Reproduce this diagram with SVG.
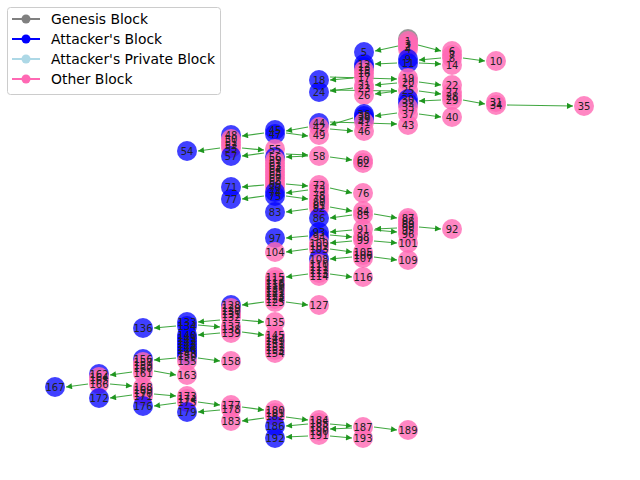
<svg xmlns="http://www.w3.org/2000/svg" width="640" height="480" viewBox="0 0 640 480">
<style>
.p{fill:#ff69b4;fill-opacity:0.8}
.b{fill:#0000ff;fill-opacity:0.75}
.g{fill:#808080;fill-opacity:0.8}
#labels text{font-family:"DejaVu Sans",sans-serif;font-size:10px;fill:#222;text-anchor:middle;dominant-baseline:central}
#edges line{stroke:#1f961f;stroke-opacity:0.85;stroke-width:1.2;marker-end:url(#ah)}
.lg text{font-family:"DejaVu Sans",sans-serif;font-size:13.9px;fill:#000;dominant-baseline:central}
</style>
<defs>
<marker id="ah" viewBox="0 0 10 10" refX="10" refY="5" markerWidth="8" markerHeight="6" markerUnits="userSpaceOnUse" orient="auto"><path d="M0,0 L10,5 L0,10 z" fill="#1f961f"/></marker>
</defs>
<rect width="640" height="480" fill="#fff"/>
<g id="edges">
<line x1="398" y1="46" x2="375" y2="51"/>
<line x1="418" y1="45" x2="441" y2="51"/>
<line x1="441" y1="58" x2="419" y2="60"/>
<line x1="463" y1="58" x2="485" y2="61"/>
<line x1="397" y1="63" x2="375" y2="64"/>
<line x1="419" y1="63" x2="441" y2="64"/>
<line x1="353" y1="78" x2="330" y2="80"/>
<line x1="330" y1="77" x2="397" y2="79"/>
<line x1="397" y1="83" x2="375" y2="85"/>
<line x1="419" y1="82" x2="441" y2="85"/>
<line x1="330" y1="90" x2="397" y2="91"/>
<line x1="397" y1="91" x2="375" y2="94"/>
<line x1="419" y1="91" x2="441" y2="94"/>
<line x1="353" y1="88" x2="330" y2="91"/>
<line x1="441" y1="100" x2="419" y2="101"/>
<line x1="463" y1="100" x2="485" y2="104"/>
<line x1="507" y1="105" x2="573" y2="106"/>
<line x1="397" y1="113" x2="375" y2="116"/>
<line x1="419" y1="114" x2="441" y2="117"/>
<line x1="330" y1="122" x2="397" y2="124"/>
<line x1="353" y1="118" x2="330" y2="125"/>
<line x1="308" y1="127" x2="286" y2="131"/>
<line x1="286" y1="133" x2="308" y2="136"/>
<line x1="330" y1="129" x2="353" y2="131"/>
<line x1="264" y1="133" x2="242" y2="136"/>
<line x1="220" y1="148" x2="198" y2="151"/>
<line x1="242" y1="148" x2="264" y2="150"/>
<line x1="264" y1="153" x2="242" y2="156"/>
<line x1="308" y1="156" x2="286" y2="157"/>
<line x1="286" y1="154" x2="308" y2="155"/>
<line x1="330" y1="157" x2="352" y2="160"/>
<line x1="264" y1="185" x2="242" y2="187"/>
<line x1="286" y1="184" x2="308" y2="186"/>
<line x1="308" y1="190" x2="286" y2="193"/>
<line x1="330" y1="188" x2="352" y2="193"/>
<line x1="264" y1="196" x2="242" y2="199"/>
<line x1="286" y1="196" x2="308" y2="199"/>
<line x1="308" y1="209" x2="286" y2="212"/>
<line x1="330" y1="207" x2="352" y2="211"/>
<line x1="352" y1="215" x2="330" y2="218"/>
<line x1="374" y1="214" x2="397" y2="218"/>
<line x1="397" y1="228" x2="375" y2="229"/>
<line x1="374" y1="230" x2="397" y2="232"/>
<line x1="352" y1="230" x2="330" y2="232"/>
<line x1="419" y1="227" x2="441" y2="229"/>
<line x1="308" y1="236" x2="286" y2="238"/>
<line x1="330" y1="235" x2="352" y2="237"/>
<line x1="352" y1="241" x2="330" y2="243"/>
<line x1="374" y1="241" x2="397" y2="243"/>
<line x1="308" y1="249" x2="286" y2="252"/>
<line x1="330" y1="249" x2="352" y2="252"/>
<line x1="352" y1="257" x2="330" y2="259"/>
<line x1="374" y1="257" x2="397" y2="260"/>
<line x1="308" y1="274" x2="286" y2="277"/>
<line x1="330" y1="274" x2="352" y2="277"/>
<line x1="264" y1="302" x2="242" y2="305"/>
<line x1="286" y1="302" x2="308" y2="305"/>
<line x1="220" y1="320" x2="198" y2="322"/>
<line x1="176" y1="326" x2="154" y2="328"/>
<line x1="198" y1="325" x2="220" y2="327"/>
<line x1="242" y1="320" x2="264" y2="322"/>
<line x1="220" y1="333" x2="198" y2="335"/>
<line x1="242" y1="332" x2="264" y2="335"/>
<line x1="176" y1="358" x2="154" y2="360"/>
<line x1="198" y1="358" x2="220" y2="361"/>
<line x1="154" y1="371" x2="176" y2="375"/>
<line x1="132" y1="372" x2="110" y2="375"/>
<line x1="88" y1="384" x2="66" y2="387"/>
<line x1="110" y1="384" x2="132" y2="386"/>
<line x1="132" y1="395" x2="110" y2="398"/>
<line x1="154" y1="394" x2="176" y2="396"/>
<line x1="176" y1="403" x2="154" y2="406"/>
<line x1="198" y1="402" x2="220" y2="405"/>
<line x1="220" y1="410" x2="198" y2="412"/>
<line x1="242" y1="407" x2="264" y2="410"/>
<line x1="264" y1="418" x2="242" y2="421"/>
<line x1="286" y1="417" x2="308" y2="420"/>
<line x1="308" y1="424" x2="286" y2="426"/>
<line x1="330" y1="424" x2="352" y2="426"/>
<line x1="352" y1="428" x2="330" y2="429"/>
<line x1="308" y1="436" x2="286" y2="437"/>
<line x1="330" y1="436" x2="352" y2="438"/>
<line x1="374" y1="427" x2="397" y2="430"/>
</g>
<g id="nodes">
<g id="n0"><circle class="g" cx="408" cy="39" r="10"/></g>
<g id="n1"><circle class="p" cx="408" cy="41" r="10"/></g>
<g id="n3"><circle class="p" cx="408" cy="44" r="10"/></g>
<g id="n2"><circle class="p" cx="408" cy="46" r="10"/></g>
<g id="n4"><circle class="p" cx="408" cy="49" r="10"/></g>
<g id="n5"><circle class="b" cx="364" cy="52" r="10"/></g>
<g id="n6"><circle class="p" cx="452" cy="51" r="10"/></g>
<g id="n7"><circle class="p" cx="452" cy="55" r="10"/></g>
<g id="n8"><circle class="p" cx="452" cy="58" r="10"/></g>
<g id="n9"><circle class="b" cx="408" cy="59" r="10"/></g>
<g id="n10"><circle class="p" cx="496" cy="61" r="10"/></g>
<g id="n11"><circle class="b" cx="408" cy="63" r="10"/></g>
<g id="n12"><circle class="b" cx="364" cy="64" r="10"/></g>
<g id="n13"><circle class="b" cx="364" cy="67" r="10"/></g>
<g id="n14"><circle class="p" cx="452" cy="65" r="10"/></g>
<g id="n15"><circle class="p" cx="364" cy="70" r="10"/></g>
<g id="n16"><circle class="p" cx="364" cy="73" r="10"/></g>
<g id="n17"><circle class="p" cx="364" cy="77" r="10"/></g>
<g id="n18"><circle class="b" cx="319" cy="80" r="10"/></g>
<g id="n19"><circle class="p" cx="408" cy="78" r="10"/></g>
<g id="n20"><circle class="p" cx="408" cy="82" r="10"/></g>
<g id="n21"><circle class="p" cx="364" cy="85" r="10"/></g>
<g id="n22"><circle class="p" cx="452" cy="85" r="10"/></g>
<g id="n23"><circle class="p" cx="364" cy="88" r="10"/></g>
<g id="n24"><circle class="b" cx="319" cy="92" r="10"/></g>
<g id="n25"><circle class="p" cx="408" cy="90" r="10"/></g>
<g id="n26"><circle class="p" cx="364" cy="95" r="10"/></g>
<g id="n27"><circle class="p" cx="452" cy="92" r="10"/></g>
<g id="n28"><circle class="p" cx="452" cy="96" r="10"/></g>
<g id="n29"><circle class="p" cx="452" cy="100" r="10"/></g>
<g id="n30"><circle class="b" cx="408" cy="99" r="10"/></g>
<g id="n31"><circle class="p" cx="496" cy="102" r="10"/></g>
<g id="n32"><circle class="b" cx="408" cy="103" r="10"/></g>
<g id="n33"><circle class="p" cx="408" cy="107" r="10"/></g>
<g id="n34"><circle class="p" cx="496" cy="105" r="10"/></g>
<g id="n35"><circle class="p" cx="584" cy="106" r="10"/></g>
<g id="n36"><circle class="b" cx="364" cy="114" r="10"/></g>
<g id="n37"><circle class="p" cx="408" cy="114" r="10"/></g>
<g id="n38"><circle class="b" cx="364" cy="116" r="10"/></g>
<g id="n39"><circle class="b" cx="364" cy="119" r="10"/></g>
<g id="n40"><circle class="p" cx="452" cy="117" r="10"/></g>
<g id="n41"><circle class="p" cx="364" cy="122" r="10"/></g>
<g id="n44"><circle class="b" cx="319" cy="123" r="10"/></g>
<g id="n42"><circle class="p" cx="319" cy="127" r="10"/></g>
<g id="n43"><circle class="p" cx="408" cy="125" r="10"/></g>
<g id="n46"><circle class="p" cx="364" cy="131" r="10"/></g>
<g id="n45"><circle class="b" cx="275" cy="130" r="10"/></g>
<g id="n47"><circle class="b" cx="275" cy="134" r="10"/></g>
<g id="n49"><circle class="p" cx="319" cy="135" r="10"/></g>
<g id="n48"><circle class="b" cx="231" cy="135" r="10"/></g>
<g id="n50"><circle class="p" cx="231" cy="139" r="10"/></g>
<g id="n51"><circle class="p" cx="231" cy="142" r="10"/></g>
<g id="n52"><circle class="p" cx="231" cy="145" r="10"/></g>
<g id="n53"><circle class="p" cx="231" cy="148" r="10"/></g>
<g id="n54"><circle class="b" cx="187" cy="151" r="10"/></g>
<g id="n57"><circle class="b" cx="231" cy="156" r="10"/></g>
<g id="n55"><circle class="p" cx="275" cy="149" r="10"/></g>
<g id="n56"><circle class="b" cx="275" cy="157" r="10"/></g>
<g id="n58"><circle class="p" cx="319" cy="156" r="10"/></g>
<g id="n59"><circle class="p" cx="275" cy="160" r="10"/></g>
<g id="n60"><circle class="p" cx="363" cy="160" r="10"/></g>
<g id="n61"><circle class="p" cx="275" cy="163" r="10"/></g>
<g id="n62"><circle class="p" cx="363" cy="163" r="10"/></g>
<g id="n63"><circle class="p" cx="275" cy="166" r="10"/></g>
<g id="n64"><circle class="p" cx="275" cy="169" r="10"/></g>
<g id="n65"><circle class="p" cx="275" cy="172" r="10"/></g>
<g id="n66"><circle class="p" cx="275" cy="175" r="10"/></g>
<g id="n67"><circle class="p" cx="275" cy="178" r="10"/></g>
<g id="n68"><circle class="p" cx="275" cy="181" r="10"/></g>
<g id="n69"><circle class="p" cx="275" cy="184" r="10"/></g>
<g id="n70"><circle class="p" cx="275" cy="187" r="10"/></g>
<g id="n71"><circle class="b" cx="231" cy="187" r="10"/></g>
<g id="n72"><circle class="p" cx="319" cy="185" r="10"/></g>
<g id="n73"><circle class="p" cx="319" cy="189" r="10"/></g>
<g id="n74"><circle class="b" cx="275" cy="192" r="10"/></g>
<g id="n75"><circle class="b" cx="275" cy="196" r="10"/></g>
<g id="n76"><circle class="p" cx="363" cy="193" r="10"/></g>
<g id="n77"><circle class="b" cx="231" cy="199" r="10"/></g>
<g id="n78"><circle class="p" cx="319" cy="195" r="10"/></g>
<g id="n79"><circle class="p" cx="319" cy="199" r="10"/></g>
<g id="n80"><circle class="p" cx="319" cy="202" r="10"/></g>
<g id="n81"><circle class="p" cx="319" cy="205" r="10"/></g>
<g id="n82"><circle class="p" cx="319" cy="208" r="10"/></g>
<g id="n83"><circle class="b" cx="275" cy="212" r="10"/></g>
<g id="n84"><circle class="p" cx="363" cy="211" r="10"/></g>
<g id="n85"><circle class="p" cx="363" cy="215" r="10"/></g>
<g id="n86"><circle class="b" cx="319" cy="218" r="10"/></g>
<g id="n87"><circle class="p" cx="408" cy="218" r="10"/></g>
<g id="n88"><circle class="p" cx="408" cy="221" r="10"/></g>
<g id="n89"><circle class="p" cx="408" cy="224" r="10"/></g>
<g id="n90"><circle class="p" cx="408" cy="227" r="10"/></g>
<g id="n95"><circle class="p" cx="408" cy="230" r="10"/></g>
<g id="n96"><circle class="p" cx="408" cy="234" r="10"/></g>
<g id="n91"><circle class="p" cx="363" cy="229" r="10"/></g>
<g id="n92"><circle class="p" cx="452" cy="229" r="10"/></g>
<g id="n93"><circle class="b" cx="319" cy="232" r="10"/></g>
<g id="n94"><circle class="b" cx="319" cy="237" r="10"/></g>
<g id="n97"><circle class="b" cx="275" cy="238" r="10"/></g>
<g id="n98"><circle class="p" cx="363" cy="237" r="10"/></g>
<g id="n99"><circle class="p" cx="363" cy="240" r="10"/></g>
<g id="n100"><circle class="p" cx="319" cy="243" r="10"/></g>
<g id="n101"><circle class="p" cx="408" cy="243" r="10"/></g>
<g id="n102"><circle class="p" cx="319" cy="246" r="10"/></g>
<g id="n103"><circle class="p" cx="319" cy="249" r="10"/></g>
<g id="n104"><circle class="p" cx="275" cy="252" r="10"/></g>
<g id="n105"><circle class="p" cx="363" cy="252" r="10"/></g>
<g id="n106"><circle class="p" cx="363" cy="255" r="10"/></g>
<g id="n107"><circle class="p" cx="363" cy="258" r="10"/></g>
<g id="n108"><circle class="b" cx="319" cy="259" r="10"/></g>
<g id="n109"><circle class="p" cx="408" cy="260" r="10"/></g>
<g id="n110"><circle class="p" cx="319" cy="264" r="10"/></g>
<g id="n111"><circle class="p" cx="319" cy="267" r="10"/></g>
<g id="n112"><circle class="p" cx="319" cy="270" r="10"/></g>
<g id="n113"><circle class="p" cx="319" cy="273" r="10"/></g>
<g id="n114"><circle class="p" cx="319" cy="276" r="10"/></g>
<g id="n115"><circle class="p" cx="275" cy="277" r="10"/></g>
<g id="n116"><circle class="p" cx="363" cy="277" r="10"/></g>
<g id="n117"><circle class="p" cx="275" cy="280" r="10"/></g>
<g id="n118"><circle class="p" cx="275" cy="283" r="10"/></g>
<g id="n119"><circle class="p" cx="275" cy="285" r="10"/></g>
<g id="n120"><circle class="p" cx="275" cy="288" r="10"/></g>
<g id="n121"><circle class="p" cx="275" cy="291" r="10"/></g>
<g id="n122"><circle class="p" cx="275" cy="293" r="10"/></g>
<g id="n123"><circle class="p" cx="275" cy="296" r="10"/></g>
<g id="n124"><circle class="p" cx="275" cy="299" r="10"/></g>
<g id="n125"><circle class="p" cx="275" cy="302" r="10"/></g>
<g id="n127"><circle class="p" cx="319" cy="305" r="10"/></g>
<g id="n128"><circle class="b" cx="231" cy="305" r="10"/></g>
<g id="n129"><circle class="p" cx="231" cy="308" r="10"/></g>
<g id="n130"><circle class="p" cx="231" cy="311" r="10"/></g>
<g id="n131"><circle class="p" cx="231" cy="314" r="10"/></g>
<g id="n132"><circle class="p" cx="231" cy="317" r="10"/></g>
<g id="n133"><circle class="b" cx="187" cy="322" r="10"/></g>
<g id="n134"><circle class="b" cx="187" cy="326" r="10"/></g>
<g id="n135"><circle class="p" cx="275" cy="322" r="10"/></g>
<g id="n136"><circle class="b" cx="143" cy="328" r="10"/></g>
<g id="n137"><circle class="p" cx="231" cy="326" r="10"/></g>
<g id="n138"><circle class="p" cx="231" cy="329" r="10"/></g>
<g id="n139"><circle class="p" cx="231" cy="333" r="10"/></g>
<g id="n140"><circle class="b" cx="187" cy="335" r="10"/></g>
<g id="n141"><circle class="b" cx="187" cy="338" r="10"/></g>
<g id="n142"><circle class="b" cx="187" cy="341" r="10"/></g>
<g id="n143"><circle class="b" cx="187" cy="344" r="10"/></g>
<g id="n144"><circle class="b" cx="187" cy="347" r="10"/></g>
<g id="n145"><circle class="p" cx="275" cy="335" r="10"/></g>
<g id="n146"><circle class="b" cx="187" cy="350" r="10"/></g>
<g id="n147"><circle class="p" cx="275" cy="338" r="10"/></g>
<g id="n148"><circle class="b" cx="187" cy="353" r="10"/></g>
<g id="n149"><circle class="p" cx="275" cy="341" r="10"/></g>
<g id="n150"><circle class="b" cx="187" cy="356" r="10"/></g>
<g id="n151"><circle class="p" cx="275" cy="344" r="10"/></g>
<g id="n152"><circle class="p" cx="275" cy="347" r="10"/></g>
<g id="n153"><circle class="p" cx="275" cy="350" r="10"/></g>
<g id="n154"><circle class="p" cx="275" cy="353" r="10"/></g>
<g id="n155"><circle class="p" cx="187" cy="361" r="10"/></g>
<g id="n156"><circle class="b" cx="143" cy="359" r="10"/></g>
<g id="n157"><circle class="p" cx="143" cy="362" r="10"/></g>
<g id="n158"><circle class="p" cx="231" cy="361" r="10"/></g>
<g id="n159"><circle class="p" cx="143" cy="365" r="10"/></g>
<g id="n160"><circle class="p" cx="143" cy="368" r="10"/></g>
<g id="n161"><circle class="p" cx="143" cy="373" r="10"/></g>
<g id="n162"><circle class="b" cx="99" cy="374" r="10"/></g>
<g id="n163"><circle class="p" cx="187" cy="375" r="10"/></g>
<g id="n164"><circle class="p" cx="99" cy="377" r="10"/></g>
<g id="n165"><circle class="p" cx="99" cy="380" r="10"/></g>
<g id="n166"><circle class="p" cx="99" cy="384" r="10"/></g>
<g id="n167"><circle class="b" cx="55" cy="387" r="10"/></g>
<g id="n168"><circle class="p" cx="143" cy="387" r="10"/></g>
<g id="n169"><circle class="p" cx="143" cy="390" r="10"/></g>
<g id="n170"><circle class="p" cx="143" cy="393" r="10"/></g>
<g id="n171"><circle class="p" cx="143" cy="396" r="10"/></g>
<g id="n172"><circle class="b" cx="99" cy="398" r="10"/></g>
<g id="n173"><circle class="p" cx="187" cy="396" r="10"/></g>
<g id="n174"><circle class="p" cx="187" cy="399" r="10"/></g>
<g id="n175"><circle class="p" cx="187" cy="402" r="10"/></g>
<g id="n176"><circle class="b" cx="143" cy="406" r="10"/></g>
<g id="n177"><circle class="p" cx="231" cy="405" r="10"/></g>
<g id="n178"><circle class="p" cx="231" cy="409" r="10"/></g>
<g id="n179"><circle class="b" cx="187" cy="412" r="10"/></g>
<g id="n180"><circle class="p" cx="275" cy="410" r="10"/></g>
<g id="n181"><circle class="p" cx="275" cy="413" r="10"/></g>
<g id="n182"><circle class="p" cx="275" cy="416" r="10"/></g>
<g id="n183"><circle class="p" cx="231" cy="421" r="10"/></g>
<g id="n184"><circle class="p" cx="319" cy="420" r="10"/></g>
<g id="n185"><circle class="p" cx="319" cy="423" r="10"/></g>
<g id="n186"><circle class="b" cx="275" cy="426" r="10"/></g>
<g id="n187"><circle class="p" cx="363" cy="427" r="10"/></g>
<g id="n188"><circle class="p" cx="319" cy="427" r="10"/></g>
<g id="n189"><circle class="p" cx="408" cy="430" r="10"/></g>
<g id="n190"><circle class="p" cx="319" cy="431" r="10"/></g>
<g id="n191"><circle class="p" cx="319" cy="435" r="10"/></g>
<g id="n192"><circle class="b" cx="275" cy="438" r="10"/></g>
<g id="n193"><circle class="p" cx="363" cy="438" r="10"/></g>
</g>
<g id="labels">
<text x="408" y="41">1</text><text x="408" y="44">3</text><text x="408" y="46">2</text><text x="408" y="49">4</text>
<text x="364" y="52">5</text><text x="452" y="51">6</text><text x="452" y="55">7</text><text x="452" y="58">8</text>
<text x="408" y="59">9</text><text x="496" y="61">10</text><text x="408" y="63">11</text><text x="364" y="64">12</text>
<text x="364" y="67">13</text><text x="452" y="65">14</text><text x="364" y="70">15</text><text x="364" y="73">16</text>
<text x="364" y="77">17</text><text x="319" y="80">18</text><text x="408" y="78">19</text><text x="408" y="82">20</text>
<text x="364" y="85">21</text><text x="452" y="85">22</text><text x="364" y="88">23</text><text x="319" y="92">24</text>
<text x="408" y="90">25</text><text x="364" y="95">26</text><text x="452" y="92">27</text><text x="452" y="96">28</text>
<text x="452" y="100">29</text><text x="408" y="99">30</text><text x="496" y="102">31</text><text x="408" y="103">32</text>
<text x="408" y="107">33</text><text x="496" y="105">34</text><text x="584" y="106">35</text><text x="364" y="114">36</text>
<text x="408" y="114">37</text><text x="364" y="116">38</text><text x="364" y="119">39</text><text x="452" y="117">40</text>
<text x="364" y="122">41</text><text x="319" y="123">44</text><text x="319" y="127">42</text><text x="408" y="125">43</text>
<text x="364" y="131">46</text><text x="275" y="130">45</text><text x="275" y="134">47</text><text x="319" y="135">49</text>
<text x="231" y="135">48</text><text x="231" y="139">50</text><text x="231" y="142">51</text><text x="231" y="145">52</text>
<text x="231" y="148">53</text><text x="187" y="151">54</text><text x="231" y="156">57</text><text x="275" y="149">55</text>
<text x="275" y="157">56</text><text x="319" y="156">58</text><text x="275" y="160">59</text><text x="363" y="160">60</text>
<text x="275" y="163">61</text><text x="363" y="163">62</text><text x="275" y="166">63</text><text x="275" y="169">64</text>
<text x="275" y="172">65</text><text x="275" y="175">66</text><text x="275" y="178">67</text><text x="275" y="181">68</text>
<text x="275" y="184">69</text><text x="275" y="187">70</text><text x="231" y="187">71</text><text x="319" y="185">72</text>
<text x="319" y="189">73</text><text x="275" y="192">74</text><text x="275" y="196">75</text><text x="363" y="193">76</text>
<text x="231" y="199">77</text><text x="319" y="195">78</text><text x="319" y="199">79</text><text x="319" y="202">80</text>
<text x="319" y="205">81</text><text x="319" y="208">82</text><text x="275" y="212">83</text><text x="363" y="211">84</text>
<text x="363" y="215">85</text><text x="319" y="218">86</text><text x="408" y="218">87</text><text x="408" y="221">88</text>
<text x="408" y="224">89</text><text x="408" y="227">90</text><text x="408" y="230">95</text><text x="408" y="234">96</text>
<text x="363" y="229">91</text><text x="452" y="229">92</text><text x="319" y="232">93</text><text x="319" y="237">94</text>
<text x="275" y="238">97</text><text x="363" y="237">98</text><text x="363" y="240">99</text><text x="319" y="243">100</text>
<text x="408" y="243">101</text><text x="319" y="246">102</text><text x="319" y="249">103</text><text x="275" y="252">104</text>
<text x="363" y="252">105</text><text x="363" y="255">106</text><text x="363" y="258">107</text><text x="319" y="259">108</text>
<text x="408" y="260">109</text><text x="319" y="264">110</text><text x="319" y="267">111</text><text x="319" y="270">112</text>
<text x="319" y="273">113</text><text x="319" y="276">114</text><text x="275" y="277">115</text><text x="363" y="277">116</text>
<text x="275" y="280">117</text><text x="275" y="283">118</text><text x="275" y="285">119</text><text x="275" y="288">120</text>
<text x="275" y="291">121</text><text x="275" y="293">122</text><text x="275" y="296">123</text><text x="275" y="299">124</text>
<text x="275" y="302">125</text><text x="319" y="305">127</text><text x="231" y="305">128</text><text x="231" y="308">129</text>
<text x="231" y="311">130</text><text x="231" y="314">131</text><text x="231" y="317">132</text><text x="187" y="322">133</text>
<text x="187" y="326">134</text><text x="275" y="322">135</text><text x="143" y="328">136</text><text x="231" y="326">137</text>
<text x="231" y="329">138</text><text x="231" y="333">139</text><text x="187" y="335">140</text><text x="187" y="338">141</text>
<text x="187" y="341">142</text><text x="187" y="344">143</text><text x="187" y="347">144</text><text x="275" y="335">145</text>
<text x="187" y="350">146</text><text x="275" y="338">147</text><text x="187" y="353">148</text><text x="275" y="341">149</text>
<text x="187" y="356">150</text><text x="275" y="344">151</text><text x="275" y="347">152</text><text x="275" y="350">153</text>
<text x="275" y="353">154</text><text x="187" y="361">155</text><text x="143" y="359">156</text><text x="143" y="362">157</text>
<text x="231" y="361">158</text><text x="143" y="365">159</text><text x="143" y="368">160</text><text x="143" y="373">161</text>
<text x="99" y="374">162</text><text x="187" y="375">163</text><text x="99" y="377">164</text><text x="99" y="380">165</text>
<text x="99" y="384">166</text><text x="55" y="387">167</text><text x="143" y="387">168</text><text x="143" y="390">169</text>
<text x="143" y="393">170</text><text x="143" y="396">171</text><text x="99" y="398">172</text><text x="187" y="396">173</text>
<text x="187" y="399">174</text><text x="187" y="402">175</text><text x="143" y="406">176</text><text x="231" y="405">177</text>
<text x="231" y="409">178</text><text x="187" y="412">179</text><text x="275" y="410">180</text><text x="275" y="413">181</text>
<text x="275" y="416">182</text><text x="231" y="421">183</text><text x="319" y="420">184</text><text x="319" y="423">185</text>
<text x="275" y="426">186</text><text x="363" y="427">187</text><text x="319" y="427">188</text><text x="408" y="430">189</text>
<text x="319" y="431">190</text><text x="319" y="435">191</text><text x="275" y="438">192</text><text x="363" y="438">193</text>
</g>
<g id="legend" class="lg">
<rect x="7.5" y="7.5" width="213" height="87" rx="3" fill="#fff" fill-opacity="0.8" stroke="#cccccc"/>
<line x1="12" y1="19" x2="40" y2="19" stroke="#808080" stroke-width="2"/><circle cx="26" cy="19" r="4.5" fill="#808080"/>
<text x="51" y="19">Genesis Block</text>
<line x1="12" y1="39" x2="40" y2="39" stroke="#0000ff" stroke-width="2"/><circle cx="26" cy="39" r="4.5" fill="#0000ff"/>
<text x="51" y="39">Attacker's Block</text>
<line x1="12" y1="59" x2="40" y2="59" stroke="#add8e6" stroke-width="2"/><circle cx="26" cy="59" r="4.5" fill="#add8e6"/>
<text x="51" y="59">Attacker's Private Block</text>
<line x1="12" y1="79" x2="40" y2="79" stroke="#ff69b4" stroke-width="2"/><circle cx="26" cy="79" r="4.5" fill="#ff69b4"/>
<text x="51" y="79">Other Block</text>
</g>
</svg>
